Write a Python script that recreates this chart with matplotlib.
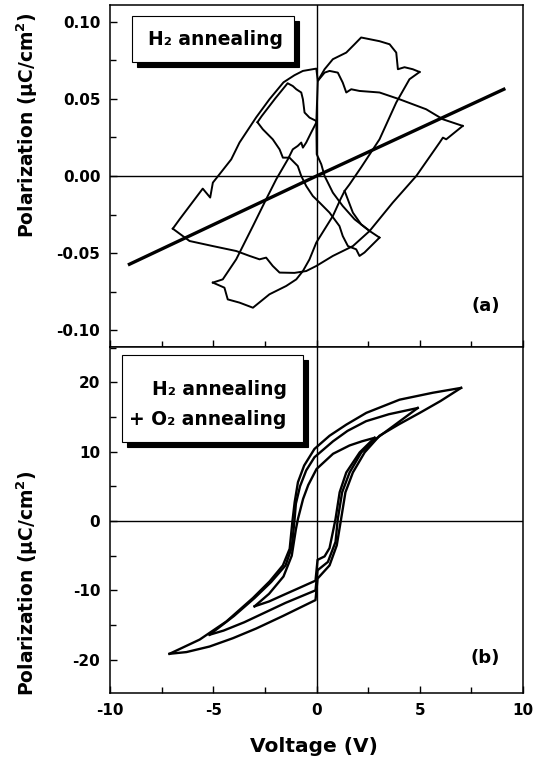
import matplotlib
matplotlib.use("Agg")
import matplotlib.pyplot as plt
from matplotlib.patches import Rectangle
from matplotlib.ticker import MultipleLocator, FormatStrFormatter

plt.rcParams['font.family'] = ['DejaVu Sans']
plt.rcParams['font.weight'] = 'bold'
plt.rcParams['axes.unicode_minus'] = False

# -----------------------
# (a) H2 annealing  (V, uC/cm2)
# -----------------------
a_lin_v = [-9.06, 0.0, 9.07]
a_lin_p = [-0.0573, 0.0, 0.0563]

a_loop7_up_v = [-6.96, -6.63, -5.51, -5.15, -5.02, -4.70, -4.13, -3.73, -2.92, -2.28, -1.60,
                -1.07, -0.66, -0.01, 0.06, 0.39, 0.63, 1.03, 1.27, 1.44, 1.68, 2.08, 3.05,
                4.02, 5.31, 6.12, 7.08]
a_loop7_up_p = [-0.0342, -0.0281, -0.0082, -0.0140, -0.0043, 0.0011, 0.0108, 0.0217, 0.0381,
                0.0498, 0.0608, 0.0654, 0.0682, 0.0697, 0.0617, 0.0671, 0.0682, 0.0671,
                0.0606, 0.0542, 0.0563, 0.0552, 0.0542, 0.0498, 0.0433, 0.0368, 0.0325]
a_loop7_dn_v = [7.08, 6.28, 6.12, 5.96, 4.83, 3.69, 2.57, 1.76, 0.79, -0.01, -0.50, -1.07,
                -1.79, -2.12, -2.44, -2.76, -3.24, -3.89, -5.02, -6.15, -6.96]
a_loop7_dn_p = [0.0325, 0.0238, 0.0249, 0.0217, 0.0, -0.0173, -0.0357, -0.0455, -0.0519,
                -0.0584, -0.0617, -0.0629, -0.0627, -0.0584, -0.0530, -0.0541, -0.0519,
                -0.0487, -0.0455, -0.0422, -0.0342]

a_loop5_up_v = [-5.02, -4.54, -3.89, -3.08, -2.44, -1.95, -1.39, -1.15, -0.91, -0.74, -0.66,
                -0.50, -0.26, -0.01, 0.06, 0.39, 0.79, 1.44, 1.84, 2.16, 2.57, 3.05, 3.54,
                3.86, 3.94, 4.26, 4.66, 4.99]
a_loop5_up_p = [-0.0692, -0.0671, -0.0541, -0.0325, -0.0151, -0.0021, 0.0108, 0.0173, 0.0195,
                0.0217, 0.0184, 0.0217, 0.0282, 0.0347, 0.0617, 0.0693, 0.0758, 0.0801,
                0.0855, 0.0899, 0.0888, 0.0875, 0.0855, 0.0801, 0.0693, 0.0706, 0.0693, 0.0675]
a_loop5_dn_v = [-5.02, -4.46, -4.30, -3.73, -3.08, -2.28, -1.47, -0.98, -0.66, -0.34, -0.01,
                0.79, 1.16, 1.36, 1.60, 2.16, 3.05, 3.86, 4.50, 4.99]
a_loop5_dn_p = [-0.0692, -0.0725, -0.0801, -0.0822, -0.0855, -0.0768, -0.0714, -0.0671,
                -0.0617, -0.0541, -0.0432, -0.0260, -0.0151, -0.0097, -0.0054, 0.0056,
                0.0238, 0.0477, 0.0628, 0.0675]
a_spike_v = [1.36, 1.76, 2.16, 2.57, 3.05]
a_spike_p = [-0.0097, -0.0238, -0.0314, -0.0357, -0.0400]

a_loop3_up_v = [-2.86, -2.66, -1.99, -1.40, -1.15, -0.98, -0.74, -0.66, -0.58, -0.34, -0.01]
a_loop3_up_p = [0.0349, 0.0388, 0.0505, 0.0602, 0.0584, 0.0563, 0.0542, 0.0498, 0.0412,
                0.0379, 0.0357]
a_loop3_dn_v = [-2.86, -2.60, -2.12, -1.79, -1.63, -1.31, -0.91, -0.74, -0.50, -0.18, 0.15,
                0.63, 1.11, 1.27, 1.52, 1.92, 2.08, 2.32, 3.05]
a_loop3_dn_p = [0.0349, 0.0303, 0.0238, 0.0173, 0.0119, 0.0119, 0.0065, 0.0, -0.0065,
                -0.0130, -0.0173, -0.0238, -0.0325, -0.0390, -0.0455, -0.0476, -0.0519,
                -0.0497, -0.0400]
a_loop3_mid_v = [-0.01, 0.01, 0.23, 0.39, 0.79, 1.27, 1.84, 2.57]
a_loop3_mid_p = [0.0357, 0.0141, 0.0076, 0.0, -0.0108, -0.0195, -0.0281, -0.0357]

# -----------------------
# (b) H2 + O2 annealing
# -----------------------
b_loop7_up_v = [7.0, 5.63, 4.02, 2.41, 1.44, 0.63, -0.1, -0.6, -0.9, -1.06, -1.17, -1.3,
                -1.63, -2.27, -3.08, -4.37, -5.66, -7.12]
b_loop7_up_p = [19.2, 18.5, 17.5, 15.6, 13.9, 12.3, 10.4, 8.0, 5.6, 2.7, -0.1, -4.0, -6.4,
                -8.7, -11.1, -14.5, -17.1, -19.15]
b_loop7_dn_v = [-7.12, -6.3, -5.18, -4.05, -2.92, -1.63, -0.05, 0.05, 0.63, 0.98, 1.19, 1.4,
                1.76, 2.33, 3.05, 4.02, 5.0, 6.0, 7.0]
b_loop7_dn_p = [-19.15, -18.9, -18.1, -16.9, -15.5, -13.7, -11.4, -8.3, -6.4, -3.5, 0.3,
                4.15, 7.0, 9.9, 12.3, 14.0, 15.6, 17.3, 19.2]

b_loop5_up_v = [4.9, 3.5, 2.4, 1.5, 0.8, -0.1, -0.5, -0.8, -1.0, -1.07, -1.2, -1.5, -2.2,
                -3.0, -4.0, -5.18]
b_loop5_up_p = [16.3, 15.4, 14.4, 13.0, 11.5, 9.2, 7.3, 5.0, 2.5, 0.0, -3.8, -6.4, -8.8,
                -11.1, -13.7, -16.4]
b_loop5_dn_v = [-5.18, -4.5, -3.5, -2.5, -1.5, -0.05, 0.05, 0.55, 0.92, 1.03, 1.24, 1.6,
                2.17, 2.9, 3.9, 4.9]
b_loop5_dn_p = [-16.4, -15.8, -14.6, -13.2, -11.8, -10.0, -7.1, -5.9, -3.0, 0.3, 4.15, 7.0,
                9.9, 11.9, 14.1, 16.3]

b_loop3_up_v = [2.81, 2.2, 1.6, 0.8, 0.0, -0.4, -0.65, -0.9, -1.0, -1.2, -1.6, -2.3, -3.0]
b_loop3_up_p = [12.0, 11.5, 10.9, 9.7, 7.5, 5.2, 3.2, 0.3, -1.2, -5.0, -8.0, -10.5, -12.3]
b_loop3_dn_v = [-3.0, -2.3, -1.63, -0.8, -0.05, 0.05, 0.39, 0.63, 0.79, 0.92, 1.12, 1.44,
                2.09, 2.81]
b_loop3_dn_p = [-12.3, -11.6, -10.7, -9.6, -8.6, -5.6, -5.1, -3.9, -1.6, 0.3, 4.15, 7.0,
                9.9, 12.0]

# -----------------------
# Figure
# -----------------------
fig = plt.figure(figsize=(5.38, 7.67), dpi=100)
ax_a = fig.add_axes([0.2045, 0.5476, 0.7677, 0.4459])
ax_b = fig.add_axes([0.2045, 0.0965, 0.7677, 0.4511])

for ax in (ax_a, ax_b):
    ax.axhline(0, color='k', lw=1.0, zorder=1)
    ax.axvline(0, color='k', lw=1.0, zorder=1)
    ax.set_xlim(-10, 10)
    ax.xaxis.set_major_locator(MultipleLocator(5))
    ax.xaxis.set_minor_locator(MultipleLocator(2.5))
    ax.tick_params(which='both', direction='in', top=False, right=False,
                   width=1.0, labelsize=11)
    ax.tick_params(which='major', length=5, pad=7)
    ax.tick_params(which='minor', length=4)
    for s in ax.spines.values():
        s.set_linewidth(1.1)

# panel (a)
lw_a = 1.4
ax_a.plot(a_lin_v, a_lin_p, color='k', lw=2.4)
for v, p in [(a_loop7_up_v, a_loop7_up_p), (a_loop7_dn_v, a_loop7_dn_p),
             (a_loop5_up_v, a_loop5_up_p), (a_loop5_dn_v, a_loop5_dn_p),
             (a_spike_v, a_spike_p), (a_loop3_up_v, a_loop3_up_p),
             (a_loop3_dn_v, a_loop3_dn_p), (a_loop3_mid_v, a_loop3_mid_p)]:
    ax_a.plot(v, p, color='k', lw=lw_a, solid_joinstyle='round')
ax_a.set_ylim(-0.111, 0.111)
ax_a.yaxis.set_major_locator(MultipleLocator(0.05))
ax_a.yaxis.set_minor_locator(MultipleLocator(0.025))
ax_a.yaxis.set_major_formatter(FormatStrFormatter('%.2f'))
ax_a.tick_params(labelbottom=False)

# panel (b)
lw_b = 1.7
for v, p in [(b_loop7_up_v, b_loop7_up_p), (b_loop7_dn_v, b_loop7_dn_p),
             (b_loop5_up_v, b_loop5_up_p), (b_loop5_dn_v, b_loop5_dn_p),
             (b_loop3_up_v, b_loop3_up_p), (b_loop3_dn_v, b_loop3_dn_p)]:
    ax_b.plot(v, p, color='k', lw=lw_b, solid_joinstyle='round')
ax_b.set_ylim(-24.8, 25.1)
ax_b.yaxis.set_major_locator(MultipleLocator(10))
ax_b.yaxis.set_minor_locator(MultipleLocator(5))


# -----------------------
# Shadowed label boxes
# -----------------------
def shadow_box(ax, x0, y0, x1, y1, dx=0.012, dy=0.015):
    ax.add_patch(Rectangle((x0 + dx, y0 - dy), x1 - x0, y1 - y0, transform=ax.transAxes,
                           fc='k', ec='k', lw=0.8, zorder=5))
    ax.add_patch(Rectangle((x0, y0), x1 - x0, y1 - y0, transform=ax.transAxes,
                           fc='white', ec='k', lw=0.8, zorder=6))


shadow_box(ax_a, 0.0525, 0.834, 0.446, 0.968)
ax_a.text(0.255, 0.900, 'H\u2082 annealing', transform=ax_a.transAxes, ha='center',
          va='center', fontsize=13.5, fontweight='bold', zorder=7)

shadow_box(ax_b, 0.028, 0.726, 0.467, 0.977)
ax_b.text(0.428, 0.876, 'H\u2082 annealing', transform=ax_b.transAxes, ha='right',
          va='center', fontsize=13.5, fontweight='bold', zorder=7)
ax_b.text(0.428, 0.789, '+ O\u2082 annealing', transform=ax_b.transAxes, ha='right',
          va='center', fontsize=13.5, fontweight='bold', zorder=7)

ax_a.text(0.91, 0.12, '(a)', transform=ax_a.transAxes, ha='center', va='center',
          fontsize=13, fontweight='bold')
ax_b.text(0.908, 0.10, '(b)', transform=ax_b.transAxes, ha='center', va='center',
          fontsize=13, fontweight='bold')

# axis labels
fig.text(0.05, 0.837, 'Polarization (\u03bcC/cm$^\\mathbf{2}$)', rotation=90,
         ha='center', va='center', fontsize=13.5, fontweight='bold')
fig.text(0.05, 0.240, 'Polarization (\u03bcC/cm$^\\mathbf{2}$)', rotation=90,
         ha='center', va='center', fontsize=13.5, fontweight='bold')
fig.text(0.583, 1 - 746.7 / 767, 'Voltage (V)', ha='center', va='center',
         fontsize=14.5, fontweight='bold')

fig.savefig('out.png', dpi=100)
